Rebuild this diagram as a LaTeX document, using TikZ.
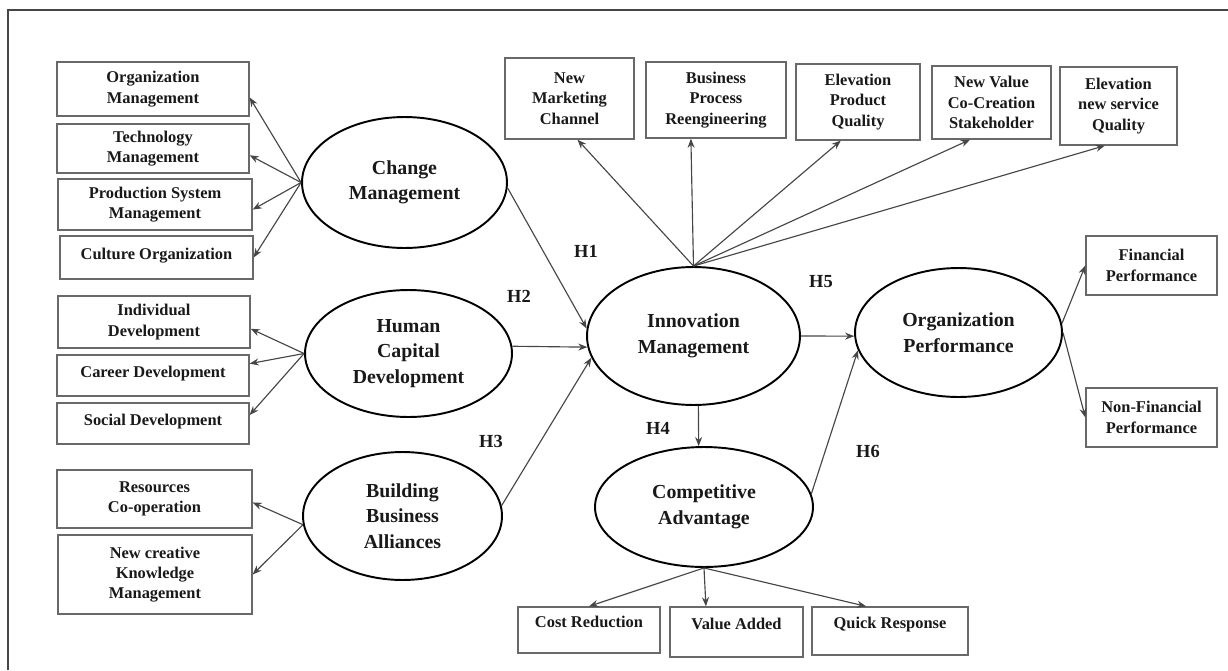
\documentclass[tikz,border=0pt]{standalone}
\usepackage{fontspec}
\setmainfont{Liberation Serif}
\usetikzlibrary{positioning,arrows.meta,shapes.geometric}
\definecolor{framegray}{RGB}{70,70,70}
\definecolor{boxgray}{RGB}{105,105,105}
\definecolor{linkgray}{RGB}{70,70,70}
\definecolor{inkdark}{RGB}{25,25,25}

\begin{document}
\begin{tikzpicture}[x=0.02cm,y=-0.02cm,
  box/.style={draw=boxgray,line width=0.75pt,align=center,inner sep=1pt,text=inkdark,font=\fontsize{9.35}{11.6}\selectfont\bfseries},
  onel/.style={box,text depth=4.5pt},
  lowl/.style={box,text depth=9pt},
  latent/.style={ellipse,draw=black,line width=1.1pt,align=center,inner sep=0pt,text=inkdark,font=\fontsize{11.3}{14.5}\selectfont\bfseries},
  hyp/.style={text=inkdark,font=\fontsize{10.5}{12}\selectfont\bfseries},
  link/.style={draw=linkgray,line width=0.65pt,-{Stealth[length=5.2pt,width=4pt]}}]
\useasboundingbox (0,0) rectangle (1228,670);
\draw[framegray,line width=1.2pt] (8,670) -- (8,10) -- (1228,10);

% latent variables
\node[latent,minimum width=4.1cm,minimum height=2.62cm] (cm) at (404.5,182.5) {Change\\Management};
\node[latent,minimum width=4.14cm,minimum height=2.54cm] (hcd) at (408.5,353.5) {Human\\Capital\\Development};
\node[latent,minimum width=3.98cm,minimum height=2.56cm] (bba) at (402.5,516) {Building\\Business\\Alliances};
\node[latent,minimum width=4.26cm,minimum height=2.76cm] (im) at (693.5,336) {Innovation\\Management};
\node[latent,minimum width=4.36cm,minimum height=2.4cm] (ca) at (704,507) {Competitive\\Advantage};
\node[latent,minimum width=4.14cm,minimum height=2.58cm] (op) at (958.5,332.5) {Organization\\Performance};

% indicators, left
\node[box,minimum width=3.84cm,minimum height=1.08cm] (om) at (153,89) {Organization\\Management};
\node[box,minimum width=3.84cm,minimum height=0.98cm] (tm) at (153,148.5) {Technology\\Management};
\node[box,minimum width=3.88cm,minimum height=1.02cm] (psm) at (155,204.5) {Production System\\Management};
\node[onel,minimum width=3.86cm,minimum height=0.86cm] (co) at (156.5,257.5) {Culture Organization};
\node[box,minimum width=3.84cm,minimum height=1.04cm] (idv) at (154,322) {Individual\\Development};
\node[onel,minimum width=3.84cm,minimum height=0.82cm] (cd) at (153,375.5) {Career Development};
\node[onel,minimum width=3.84cm,minimum height=0.82cm] (sd) at (153,423.5) {Social Development};
\node[box,minimum width=3.9cm,minimum height=1.16cm] (rc) at (154.5,499) {Resources\\Co-operation};
\node[box,minimum width=3.88cm,minimum height=1.58cm] (nck) at (155,574.5) {New creative\\Knowledge\\Management};

% indicators, top
\node[box,minimum width=2.58cm,minimum height=1.62cm] (nmc) at (569.5,98.5) {New\\Marketing\\Channel};
\node[box,minimum width=2.8cm,minimum height=1.52cm] (bpr) at (716,100) {Business\\Process\\Reengineering};
\node[box,minimum width=2.48cm,minimum height=1.52cm] (epq) at (858,102) {Elevation\\Product\\Quality};
\node[box,minimum width=2.38cm,minimum height=1.46cm] (nvc) at (991.5,102.5) {New Value\\Co-Creation\\Stakeholder};
\node[box,minimum width=2.34cm,minimum height=1.56cm] (ens) at (1118.5,106) {Elevation\\new service\\Quality};

% indicators, right and bottom
\node[box,minimum width=2.62cm,minimum height=1.18cm] (fp) at (1151.5,265.5) {Financial\\Performance};
\node[box,minimum width=2.62cm,minimum height=1.18cm] (nfp) at (1151.5,417.5) {Non-Financial\\Performance};
\node[lowl,minimum width=2.84cm,minimum height=0.92cm] (cr) at (589,630) {Cost Reduction};
\node[lowl,minimum width=2.66cm,minimum height=1.0cm] (va) at (736.5,632) {Value Added};
\node[lowl,minimum width=3.12cm,minimum height=0.96cm] (qr) at (890,631) {Quick Response};

% hypotheses
\node[hyp] (h1) at (586,251) {H1};
\node[hyp] (h2) at (519,296) {H2};
\node[hyp] (h3) at (491,441) {H3};
\node[hyp] (h4) at (658,428) {H4};
\node[hyp] (h5) at (821,282) {H5};
\node[hyp] (h6) at (868,451) {H6};

\draw[link] (cm.west) -- (om.-5);
\draw[link] (cm.west) -- (tm.-4);
\draw[link] (cm.west) -- (psm.-3);
\draw[link] (cm.west) -- (co.east);
\draw[link] (hcd.west) -- (idv.-4);
\draw[link] (hcd.west) -- (cd.7);
\draw[link] (hcd.west) -- (sd.5);
\draw[link] (bba.185) -- (rc.-2);
\draw[link] (bba.185) -- (nck.east);

\draw[link] (cm.-3) -- (im.176);
\draw[link] (hcd.4) -- (im.186);
\draw[link] (bba.6) -- (im.192);

\draw[link] (im.north) -- (nmc.-79);
\draw[link] (im.north) -- (bpr.-123);
\draw[link] (im.north) -- (epq.-114);
\draw[link] (im.north) -- (nvc.-120);
\draw[link] (im.north) -- (ens.-109);

\draw[link] (im.east) -- (op.182);
\draw[link] (im.-86) -- (ca.95);
\draw[link] (ca.7) -- (op.190);
\draw[link] (ca.south) -- (cr.north);
\draw[link] (ca.south) -- (va.140);
\draw[link] (ca.south) -- (qr.134);
\draw[link] (op.5) -- (fp.west);
\draw[link] (op.east) -- (nfp.west);
\end{tikzpicture}
\end{document}
